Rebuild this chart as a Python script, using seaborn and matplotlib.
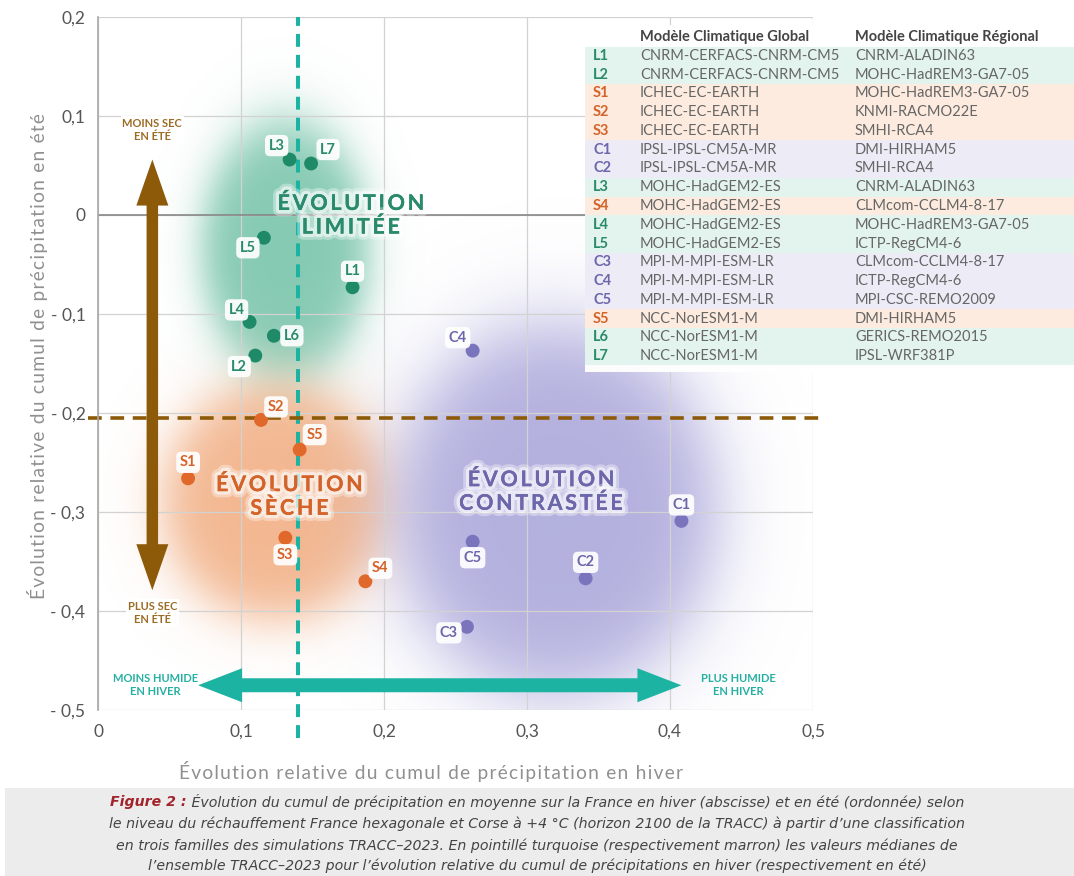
import numpy as np
import pandas as pd
import matplotlib
matplotlib.use("Agg")
import matplotlib.pyplot as plt
import seaborn as sns
from matplotlib import patheffects as pe
from matplotlib.patches import Rectangle, Polygon
from matplotlib.transforms import IdentityTransform

# ---------------- data ----------------
codes = ["L1", "L2", "S1", "S2", "S3", "C1", "C2", "L3", "S4", "L4", "L5",
         "C3", "C4", "C5", "S5", "L6", "L7"]
gcm = ["CNRM-CERFACS-CNRM-CM5", "CNRM-CERFACS-CNRM-CM5", "ICHEC-EC-EARTH",
       "ICHEC-EC-EARTH", "ICHEC-EC-EARTH", "IPSL-IPSL-CM5A-MR", "IPSL-IPSL-CM5A-MR",
       "MOHC-HadGEM2-ES", "MOHC-HadGEM2-ES", "MOHC-HadGEM2-ES", "MOHC-HadGEM2-ES",
       "MPI-M-MPI-ESM-LR", "MPI-M-MPI-ESM-LR", "MPI-M-MPI-ESM-LR", "NCC-NorESM1-M",
       "NCC-NorESM1-M", "NCC-NorESM1-M"]
rcm = ["CNRM-ALADIN63", "MOHC-HadREM3-GA7-05", "MOHC-HadREM3-GA7-05", "KNMI-RACMO22E",
       "SMHI-RCA4", "DMI-HIRHAM5", "SMHI-RCA4", "CNRM-ALADIN63", "CLMcom-CCLM4-8-17",
       "MOHC-HadREM3-GA7-05", "ICTP-RegCM4-6", "CLMcom-CCLM4-8-17", "ICTP-RegCM4-6",
       "MPI-CSC-REMO2009", "DMI-HIRHAM5", "GERICS-REMO2015", "IPSL-WRF381P"]
winter = [0.178, 0.110, 0.063, 0.114, 0.131, 0.408, 0.341, 0.134, 0.187, 0.106, 0.116,
          0.258, 0.262, 0.262, 0.141, 0.123, 0.149]
summer = [-0.073, -0.142, -0.266, -0.207, -0.326, -0.309, -0.367, 0.056, -0.370, -0.108,
          -0.023, -0.416, -0.137, -0.330, -0.237, -0.122, 0.052]
median_winter = 0.140
median_summer = -0.205

x_ticks = [0, 0.1, 0.2, 0.3, 0.4, 0.5]
x_tick_labels = ["0", "0,1", "0,2", "0,3", "0,4", "0,5"]
y_ticks = [-0.5, -0.4, -0.3, -0.2, -0.1, 0, 0.1, 0.2]
y_tick_labels = ["- 0,5", "- 0,4", "- 0,3", "- 0,2", "- 0,1", "0", "0,1", "0,2"]

families = {"L": "Évolution limitée", "S": "Évolution sèche", "C": "Évolution contrastée"}
region_titles = {"L": "ÉVOLUTION\nLIMITÉE", "S": "ÉVOLUTION\nSÈCHE", "C": "ÉVOLUTION\nCONTRASTÉE"}

x_label = "Évolution relative du cumul de précipitation en hiver"
y_label = "Évolution relative du cumul de précipitation en été"
caption_lead = "Figure 2 :"
caption_lines = [
    " Évolution du cumul de précipitation en moyenne sur la France en hiver (abscisse) et en été (ordonnée) selon",
    "le niveau du réchauffement France hexagonale et Corse à +4 °C (horizon 2100 de la TRACC) à partir d’une classification",
    "en trois familles des simulations TRACC–2023. En pointillé turquoise (respectivement marron) les valeurs médianes de",
    "l’ensemble TRACC–2023 pour l’évolution relative du cumul de précipitations en hiver (respectivement en été)",
]

# ---------------- styles ----------------
point_colors = {"L": "#1e8a68", "S": "#e0682a", "C": "#7a74bd"}
text_colors = {"L": "#2a8a6c", "S": "#d4632a", "C": "#6c66aa"}
row_colors = {"L": "#e3f3ed", "S": "#fcebde", "C": "#ecebf6"}
blob_colors = {"L": "#6cbfa3", "S": "#f0a676", "C": "#a9a6da"}
TURQ = "#1db3a3"
BROWN = "#8c5a08"

# label offsets in pixels (dx right, dy up)
label_offsets = {
    "L3": (-13, 14), "L7": (17, 14), "L5": (-16, -10), "L1": (0, 16), "L4": (-13, 12),
    "L6": (18, 0), "L2": (-16, -11), "S2": (15, 13), "S5": (15, 15), "S1": (0, 16),
    "S3": (0, -17), "S4": (15, 13), "C4": (-15, 13), "C1": (0, 16), "C5": (0, -16),
    "C2": (0, 16), "C3": (-18, -6),
}

sns.set_style("white")
FONT = ["Lato", "DejaVu Sans"]
plt.rcParams["font.family"] = FONT

W, H = 1074, 876
fig = plt.figure(figsize=(W / 100, H / 100), dpi=100)
fig.patch.set_facecolor("white")
ax = fig.add_axes([98 / W, 1 - 710 / H, 715 / W, 693 / H])
ax.set_xlim(0, 0.5)
ax.set_ylim(-0.5, 0.2)

# ---------------- background blobs ----------------
gx = np.linspace(0, 0.5, 500)
gy = np.linspace(-0.5, 0.2, 700)
GX, GY = np.meshgrid(gx, gy)


def blob(cx, cy, rx, ry, color, amax, soft=0.13):
    r = np.sqrt(((GX - cx) / rx) ** 2 + ((GY - cy) / ry) ** 2)
    a = amax / (1 + np.exp((r - 1) / soft))
    rgb = matplotlib.colors.to_rgb(color)
    img = np.zeros(GX.shape + (4,))
    img[..., 0], img[..., 1], img[..., 2] = rgb
    img[..., 3] = a
    ax.imshow(img, extent=(0, 0.5, -0.5, 0.2), origin="lower", aspect="auto",
              zorder=0.3, interpolation="bilinear")


blob(0.131, -0.035, 0.058, 0.128, blob_colors["L"], 0.82)
blob(0.124, -0.29, 0.078, 0.118, blob_colors["S"], 0.8)
blob(0.320, -0.298, 0.112, 0.185, blob_colors["C"], 0.88)

# ---------------- axes styling ----------------
ax.set_xticks(x_ticks)
ax.set_xticklabels(x_tick_labels)
ax.set_yticks(y_ticks)
ax.set_yticklabels(y_tick_labels)
ax.grid(True, color="#d2d2d2", lw=0.9)
ax.set_axisbelow(True)
for s in ["top", "right", "bottom"]:
    ax.spines[s].set_visible(False)
ax.spines["left"].set_color("#a8a8a8")
ax.spines["left"].set_linewidth(1.2)
ax.tick_params(axis="y", length=7, width=0.9, color="#b0b0b0", pad=2,
               labelsize=12.5, labelcolor="#555555")
ax.tick_params(axis="x", length=0, pad=10, labelsize=12.5, labelcolor="#555555")
ax.axhline(0, color="#808080", lw=1.1, zorder=0.6)

# median lines
ax.axvline(median_winter, ymin=-0.04, ymax=1.0, color=TURQ, lw=2.9,
           dashes=(3.2, 2.0), clip_on=False, zorder=2)
ax.axhline(median_summer, xmin=-0.014, xmax=1.017, color=BROWN, lw=2.6,
           dashes=(3.8, 2.4), clip_on=False, zorder=2)

# ---------------- scatter ----------------
df = pd.DataFrame({"code": codes, "hiver": winter, "ete": summer})
df["fam"] = [families[c[0]] for c in df["code"]]
palette = {families[k]: point_colors[k] for k in families}
sns.scatterplot(data=df, x="hiver", y="ete", hue="fam", palette=palette, s=100,
                edgecolor="none", legend=False, ax=ax, zorder=5)
ax.set_xlabel("")
ax.set_ylabel("")

for _, r in df.iterrows():
    dx, dy = label_offsets[r["code"]]
    ax.annotate(r["code"], (r["hiver"], r["ete"]), xytext=(dx * 0.72, dy * 0.72),
                textcoords="offset points", ha="center", va="center", fontsize=10.5,
                fontweight="bold", color=text_colors[r["code"][0]], zorder=6,
                bbox=dict(boxstyle="round,pad=0.25,rounding_size=0.35", fc="white",
                          ec="none", alpha=0.92))

# ---------------- region titles ----------------
halo = [pe.withStroke(linewidth=9, foreground=(1, 1, 1, 0.35)),
        pe.withStroke(linewidth=5, foreground=(1, 1, 1, 0.55)),
        pe.Normal()]


def spaced(s, sep="\u2009"):
    return "\n".join(sep.join(line) for line in s.split("\n"))


region_pos = {"L": (0.177, 0.0), "S": (0.134, -0.284), "C": (0.310, -0.279)}
for k, (tx, ty) in region_pos.items():
    ax.text(tx, ty, spaced(region_titles[k]), ha="center", va="center", fontsize=15.5,
            fontweight="bold", color=text_colors[k], linespacing=1.12,
            path_effects=halo, zorder=4)


# ---------------- arrows (one polygon each, built from the two end points) ----------------
def double_arrow(p0, p1, color, head_len, head_w, shaft_w):
    a = ax.transData.transform(p0)
    b = ax.transData.transform(p1)
    u = (b - a) / np.linalg.norm(b - a)
    n = np.array([-u[1], u[0]])
    a_base = a + u * head_len
    b_base = b - u * head_len
    verts = [a,
             a_base + n * head_w / 2, a_base + n * shaft_w / 2,
             b_base + n * shaft_w / 2, b_base + n * head_w / 2,
             b,
             b_base - n * head_w / 2, b_base - n * shaft_w / 2,
             a_base - n * shaft_w / 2, a_base - n * head_w / 2]
    ax.add_patch(Polygon(verts, closed=True, transform=IdentityTransform(),
                         fc=color, ec="none", zorder=3, clip_on=False))


double_arrow((0.038, 0.056), (0.038, -0.379), BROWN, 46, 32, 11.5)
double_arrow((0.070, -0.475), (0.408, -0.475), TURQ, 44, 34, 14)

side_box = dict(boxstyle="square,pad=0.15", fc="white", ec="none")
side_kw = dict(ha="center", va="center", fontsize=8, fontweight="bold", linespacing=1.2,
               zorder=3)
ax.text(0.038, 0.086, "MOINS SEC\nEN ÉTÉ", color="#9c6c24", bbox=side_box, **side_kw)
ax.text(0.038, -0.402, "PLUS SEC\nEN ÉTÉ", color="#9c6c24", bbox=side_box, **side_kw)
ax.text(0.040, -0.475, "MOINS HUMIDE\nEN HIVER", color="#25b0a2", **side_kw)
ax.text(0.4476, -0.475, "PLUS HUMIDE\nEN HIVER", color="#25b0a2", **side_kw)

# ---------------- axis titles ----------------
fig.text(431 / W, 1 - 772 / H, spaced(x_label, "\u200a"), ha="center", va="center",
         fontsize=13.8, color="#909090")
fig.text(38 / W, 1 - 356 / H, spaced(y_label, "\u200a"), ha="center", va="center",
         rotation=90, fontsize=13.8, color="#909090")

# ---------------- table (legend) ----------------
tab = fig.add_axes([585 / W, 1 - 372 / H, 489 / W, 347 / H])
tab.set_xlim(0, 489)
tab.set_ylim(16.85, -1.65)
tab.axis("off")
tab.add_patch(Rectangle((0, -1.65), 489, 18.5, fc="white", ec="none", alpha=0.96))
tab.text(55, -1, "Modèle Climatique Global", fontsize=10.5, fontweight="bold",
         color="#444444", va="center")
tab.text(270, -1, "Modèle Climatique Régional", fontsize=10.5, fontweight="bold",
         color="#444444", va="center")
for i, (c, g, rr) in enumerate(zip(codes, gcm, rcm)):
    tab.add_patch(Rectangle((0, i - 0.5), 489, 1, fc=row_colors[c[0]], ec="none"))
    tab.text(8, i, c, fontsize=10.5, fontweight="bold", color=text_colors[c[0]], va="center")
    tab.text(55, i, g, fontsize=10.5, color="#666666", va="center")
    tab.text(270, i, rr, fontsize=10.5, color="#666666", va="center")

# ---------------- caption ----------------
fig.patches.append(Rectangle((5 / W, 0), 1 - 5 / W, 88 / H, transform=fig.transFigure,
                             fc="#ececec", ec="none", zorder=0))
CAP = ["Liberation Sans Narrow", "DejaVu Sans"]
fig.canvas.draw()
renderer = fig.canvas.get_renderer()
ys = [802, 824, 846, 866]
CS = 10.2
lead = fig.text(0, 1 - ys[0] / H, caption_lead, fontsize=CS, style="italic",
                fontweight="bold", color="#a3232c", family=CAP, va="center")
rest = fig.text(0, 1 - ys[0] / H, caption_lines[0], fontsize=CS, style="italic",
                color="#444444", family=CAP, va="center")
w1 = lead.get_window_extent(renderer).width
w2 = rest.get_window_extent(renderer).width
x0 = (W / 2 - (w1 + w2) / 2) / W
lead.set_x(x0)
rest.set_x(x0 + w1 / W)
for yy, line in zip(ys[1:], caption_lines[1:]):
    fig.text(0.5, 1 - yy / H, line, fontsize=CS, style="italic", color="#444444",
             family=CAP, ha="center", va="center")

fig.savefig("out.png", dpi=100)
